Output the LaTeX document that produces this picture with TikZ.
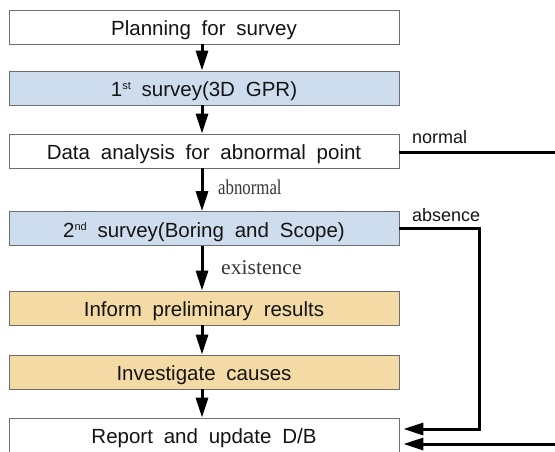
\documentclass[tikz,border=0pt]{standalone}
\usepackage{fontspec}
\setmainfont{Liberation Sans}[WordSpace=1.9]
\newfontfamily\lblserif{Liberation Serif}
\usetikzlibrary{arrows.meta,calc}
\definecolor{boxblue}{RGB}{206,221,238}
\definecolor{boxtan}{RGB}{244,218,165}
\definecolor{boxline}{RGB}{110,110,110}
\definecolor{txt}{RGB}{20,20,20}
\newcommand{\supr}[1]{\raisebox{7pt}{\fontsize{11}{11}\selectfont #1}}
\tikzset{
  stepbox/.style={draw=boxline, line width=0.8pt, rectangle, minimum width=390pt, minimum height=34pt,
    inner sep=0pt, text height=19pt, text depth=2pt, text=txt, font=\fontsize{20.5}{22}\selectfont},
  bluebox/.style={stepbox, fill=boxblue},
  tanbox/.style={stepbox, fill=boxtan},
  whitebox/.style={stepbox, fill=white},
  flow/.style={line width=3pt, -{Triangle[length=20pt,width=12pt]}},
  sanslbl/.style={anchor=base west, inner sep=0pt, text=txt, font=\fontsize{18}{18}\selectfont},
  seriflbl/.style={anchor=base west, inner sep=0pt, text=txt!85, font=\lblserif\fontsize{21}{22}\selectfont}
}
\begin{document}
\begin{tikzpicture}[x=1pt,y=-1pt]
\useasboundingbox (0,0) rectangle (555,451);
\clip (0,0) rectangle (555,451);
\fill[white] (0,0) rectangle (555,451);
\node[whitebox] (b1) at (204,27) {Planning for survey};
\node[bluebox] (b2) at (204,88) {1\supr{st} survey(3D GPR)};
\node[whitebox] (b3) at (204,151) {Data analysis for abnormal point};
\node[bluebox] (b4) at (204,228.5) {2\supr{nd} survey(Boring and Scope)};
\node[tanbox] (b5) at (204,308) {Inform preliminary results};
\node[tanbox] (b6) at (204,372) {Investigate causes};
\node[whitebox] (b7) at (204,435) {Report and update D/B};

\draw[flow] ([xshift=-2pt]b1.south) -- ([xshift=-2pt]b2.north);
\draw[flow] ([xshift=-2pt]b2.south) -- ([xshift=-2pt]b3.north);
\draw[flow] ([xshift=-2pt]b3.south) -- ([xshift=-2pt]b4.north);
\draw[flow] ([xshift=-2pt]b4.south) -- ([xshift=-2pt]b5.north);
\draw[flow] ([xshift=-2pt]b5.south) -- ([xshift=-2pt]b6.north);
\draw[flow] ([xshift=-2pt]b6.south) -- ([xshift=-2pt]b7.north);

\node[seriflbl] (labn) at (218,194) {\scalebox{0.8}[1]{abnormal}};
\node[seriflbl] (lexi) at (221,274) {\scalebox{1.03}[1]{existence}};
\node[sanslbl] (lnor) at (412,143) {normal};
\node[sanslbl] (labs) at (412,221) {absence};

\coordinate (ain) at ($(b7.east)+(4,-6)$);
\coordinate (nin) at ($(b7.east)+(4,9)$);
\coordinate (acorner) at (479,228.5);
\coordinate (ncorner) at (560,152);
\draw[flow] (b4.east) -- (acorner) |- (ain);
\draw[flow] ([yshift=-1pt]b3.east) -- (ncorner) |- (nin);
\end{tikzpicture}
\end{document}
